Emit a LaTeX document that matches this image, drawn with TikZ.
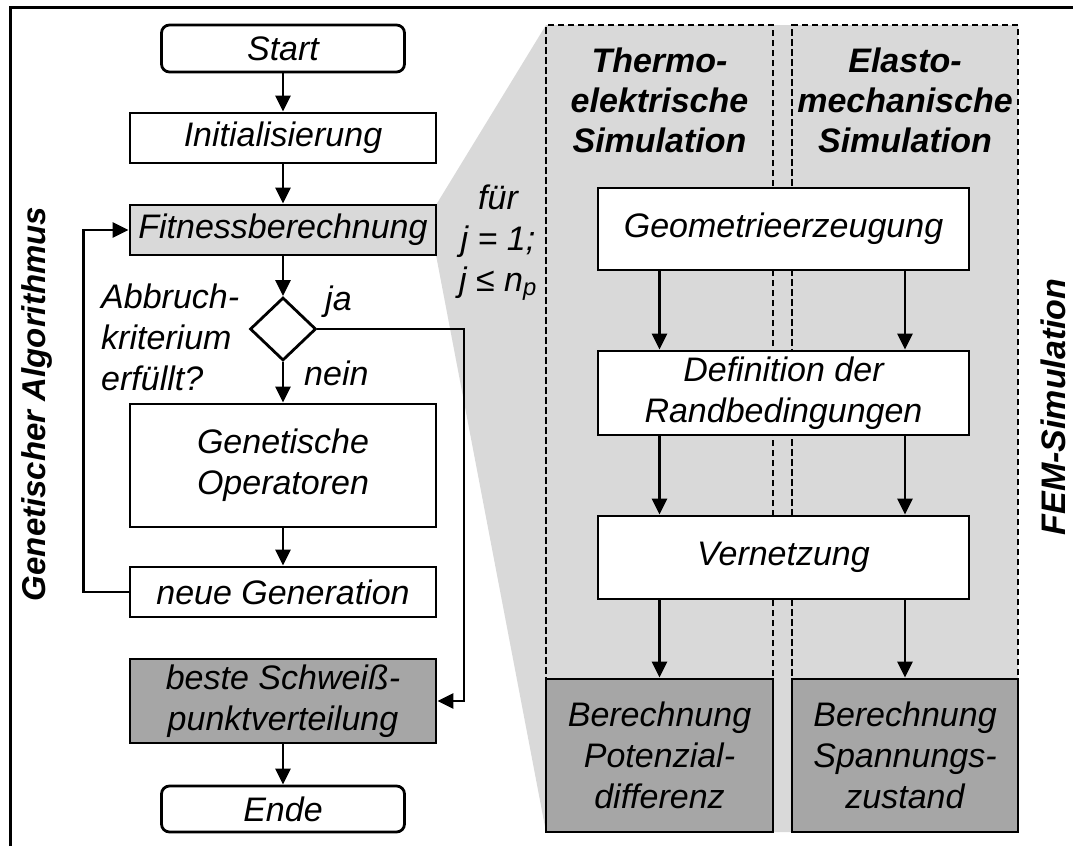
\documentclass[tikz,border=0pt]{standalone}
\usepackage{fontspec}
\setmainfont{Liberation Sans}
\usetikzlibrary{shapes.geometric,arrows.meta}
\definecolor{lgray}{HTML}{D9D9D9}
\definecolor{dgray}{HTML}{A6A6A6}
\begin{document}
\begin{tikzpicture}[x=1pt,y=-1pt,
  every node/.style={font=\fontsize{34}{41}\selectfont\itshape},
  hdr/.style={font=\fontsize{34}{40}\selectfont\bfseries\itshape,align=center,inner sep=0pt},
  box/.style={draw,line width=2.8pt,fill=white,inner sep=0pt,align=center},
  term/.style={box,rounded corners=8pt},
  dbox/.style={draw,line width=2pt,dash pattern=on 6.5pt off 3.5pt,inner sep=0pt},
  arr/.style={line width=2.5pt,-{Triangle[width=15pt,length=16pt]}},
  plain/.style={align=left,inner sep=0pt}]
\useasboundingbox (0,0) rectangle (1073,846);
% frame
\draw[line width=3pt] (10,846) -- (10,7) -- (1073,7);
% grey zoom area
\fill[lgray] (436,205) -- (546,25) -- (1018,25) -- (1018,832) -- (546,832) -- (436,255) -- cycle;
% dashed columns
\node[dbox,minimum width=227pt,minimum height=654pt] (tcol) at (659.5,352) {};
\node[dbox,minimum width=226pt,minimum height=654pt] (ecol) at (905,352) {};
\node[hdr] (th) at (659.5,100) {Thermo-\\elektrische\\Simulation};
\node[hdr] (eh) at (905,100) {Elasto-\\mechanische\\Simulation};
% left column
\node[term,minimum width=243pt,minimum height=47pt] (start) at (283,48.5) {Start};
\node[box,minimum width=306pt,minimum height=50pt] (init) at (283,138) {Initialisierung};
\node[box,fill=lgray,minimum width=306pt,minimum height=50pt] (fit) at (283,230) {Fitnessberechnung};
\node[draw,diamond,line width=2.8pt,fill=white,inner sep=0pt,minimum width=66pt,minimum height=63pt] (dia) at (283,329) {};
\node[box,minimum width=306pt,minimum height=123pt] (gen) at (283,465.5) {Genetische\\Operatoren};
\node[box,minimum width=306pt,minimum height=50pt] (neu) at (283,592) {neue Generation};
\node[box,fill=dgray,minimum width=306pt,minimum height=84pt] (best) at (283,701) {beste Schweiß-\\punktverteilung};
\node[term,minimum width=243pt,minimum height=46pt] (ende) at (283,809) {Ende};
\node[plain,anchor=west] (abb) at (101,337) {Abbruch-\\kriterium\\erfüllt?};
\node[plain,anchor=base west] (ja) at (325,310) {ja};
\node[plain,anchor=base west] (nein) at (304,385) {nein};
\node[align=center,inner sep=0pt] (fur) at (498,243) {für\\j = 1;\\j ≤ n\textsubscript{p}};
\node[font=\fontsize{33}{41}\selectfont\bfseries\itshape,rotate=90] (ga) at (37,404) {Genetischer Algorithmus};
\node[font=\fontsize{34}{41}\selectfont\bfseries\itshape,rotate=90] (fem) at (1053,407) {FEM-Simulation};
% right column
\node[box,minimum width=371pt,minimum height=82pt] (geo) at (783.5,229) {Geometrieerzeugung};
\node[box,minimum width=371pt,minimum height=84pt] (def) at (783.5,393) {Definition der\\Randbedingungen};
\node[box,minimum width=371pt,minimum height=83pt] (ver) at (783.5,557.5) {Vernetzung};
\node[box,fill=dgray,minimum width=227pt,minimum height=153pt] (bl) at (659.5,755.5) {Berechnung\\Potenzial-\\differenz};
\node[box,fill=dgray,minimum width=226pt,minimum height=153pt] (br) at (905,755.5) {Berechnung\\Spannungs-\\zustand};
% connectors left
\draw[arr] (start) -- (init);
\draw[arr] (init) -- (fit);
\draw[arr] (fit) -- (dia);
\draw[arr] (dia) -- (gen);
\draw[arr] (gen) -- (neu);
\draw[arr] (best) -- (ende);
\draw[arr] (neu.west) -- ++(-45,0) |- (fit.west);
\coordinate (jx) at (464,0);
\draw[arr] (dia.east) -| (jx |- best.east) -- (best.east);
% connectors right
\draw[arr] (tcol.center |- geo.south) -- (tcol.center |- def.north);
\draw[arr] (ecol.center |- geo.south) -- (ecol.center |- def.north);
\draw[arr] (tcol.center |- def.south) -- (tcol.center |- ver.north);
\draw[arr] (ecol.center |- def.south) -- (ecol.center |- ver.north);
\draw[arr] (tcol.center |- ver.south) -- (bl.north);
\draw[arr] (ecol.center |- ver.south) -- (br.north);
\end{tikzpicture}
\end{document}
